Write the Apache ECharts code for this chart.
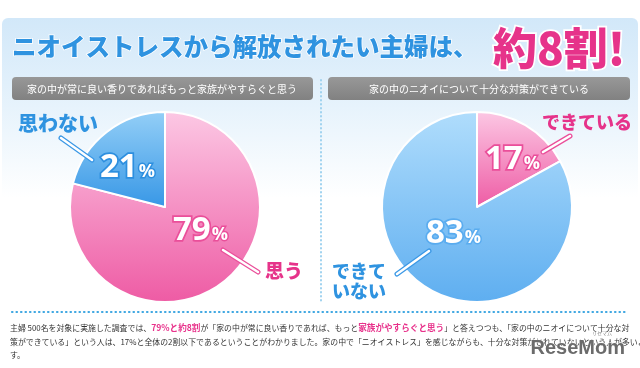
<!DOCTYPE html>
<html>
<head>
<meta charset="utf-8">
<script src="https://cdn.jsdelivr.net/npm/echarts@6/dist/echarts.min.js"></script>
<style>html,body{margin:0;padding:0;background:#fff;}#c{width:640px;height:368px;}</style>
</head>
<body>
<div id="c"></div>
<script>
// ---- data ----
const leftQuestion = '家の中が常に良い香りであればもっと家族がやすらぐと思う';
const leftCategories = ['思う', '思わない'];
const leftValues = [79, 21];
const rightQuestion = '家の中のニオイについて十分な対策ができている';
const rightCategories = ['できている', 'できていない'];
const rightValues = [17, 83];
const titleMain = 'ニオイストレスから解放されたい主婦は、';
const titleEmph = '約8割!';

const FONT = '"Noto Sans CJK JP", "Noto Sans", sans-serif';
const PINK = '#e6338a';
const BLUE = '#2f93e0';

function grad(c0, c1) {
  return { type: 'linear', x: 0, y: 0, x2: 0, y2: 1, colorStops: [{ offset: 0, color: c0 }, { offset: 1, color: c1 }] };
}
const pinkGrad = grad('#fcc8e4', '#ee5ba4');
const blueGradL = grad('#94cff7', '#3797e6');
const blueGradR = grad('#b0ddfc', '#5eaef0');

const chart = echarts.init(document.getElementById('c'), null, { renderer: 'canvas' });

function pct(x, y, v, strokeC) {
  return {
    type: 'text', x: x, y: y, z: 100,
    style: {
      text: '{n|' + v + '}{p|%}',
      rich: {
        n: { fontSize: 33, fontWeight: 'bold', fontFamily: '"Open Sans", Roboto, sans-serif', fill: '#fff', stroke: strokeC, lineWidth: 3.5 },
        p: { fontSize: 18, fontWeight: 'bold', fontFamily: '"Open Sans", Roboto, sans-serif', fill: '#fff', stroke: strokeC, lineWidth: 3, padding: [8, 0, 0, 1] }
      },
      verticalAlign: 'middle', align: 'left'
    }
  };
}
function leader(pts, color) {
  return [
    { type: 'polyline', z: 99, shape: { points: pts }, style: { stroke: color, lineWidth: 5, lineCap: 'round' } },
    { type: 'polyline', z: 99, shape: { points: pts }, style: { stroke: '#fff', lineWidth: 2.5, lineCap: 'round' } }
  ];
}
function catLabel(x, y, text, color, size, align) {
  return {
    type: 'text', x: x, y: y, z: 100,
    style: { text: text, fill: color, font: '900 ' + size + 'px ' + FONT, verticalAlign: 'middle', align: align || 'left', lineHeight: 20 }
  };
}

const footRich = {
  t: { fontSize: 7.9, fontFamily: FONT, fill: '#333' },
  h: { fontSize: 8.6, fontFamily: FONT, fontWeight: 'bold', fill: '#e8328b' }
};
function foot(y, text) {
  return { type: 'text', x: 10, y: y, z: 100, style: { text: text, rich: footRich, verticalAlign: 'middle' } };
}

const graphics = [
  // background panel
  { type: 'rect', z: -10, shape: { x: 2, y: 18, width: 636, height: 300, r: 6 },
    style: { fill: { type: 'linear', x: 0, y: 0, x2: 0, y2: 1, colorStops: [
      { offset: 0, color: '#d2e8f9' }, { offset: 0.3, color: '#e7f3fc' }, { offset: 0.6, color: '#ffffff' }, { offset: 1, color: '#ffffff' }] } } },
  // title
  { type: 'text', x: 12, y: 47, z: 100, style: { text: titleMain, fill: BLUE, font: '900 24.5px ' + FONT, verticalAlign: 'middle', stroke: '#fff', lineWidth: 1.5 } },
  { type: 'text', x: 493, y: 48, z: 100, style: { text: titleEmph, fill: PINK, font: '900 44px ' + FONT, verticalAlign: 'middle', stroke: '#fff', lineWidth: 3.5, shadowColor: 'rgba(0,0,0,0.25)', shadowBlur: 3, shadowOffsetY: 1 } },
  // question boxes
  { type: 'rect', z: 10, shape: { x: 12, y: 77, width: 301, height: 23, r: 4 }, style: { fill: grad('#989898', '#818181') } },
  { type: 'rect', z: 10, shape: { x: 328, y: 77, width: 302, height: 23, r: 4 }, style: { fill: grad('#989898', '#818181') } },
  { type: 'text', x: 162, y: 89, z: 100, style: { text: leftQuestion, fill: '#fff', font: '10px ' + FONT, align: 'center', verticalAlign: 'middle' } },
  { type: 'text', x: 479, y: 89, z: 100, style: { text: rightQuestion, fill: '#fff', font: '10px ' + FONT, align: 'center', verticalAlign: 'middle' } },
  // dotted dividers
  { type: 'line', z: 5, shape: { x1: 321, y1: 80, x2: 321, y2: 302 }, style: { stroke: '#9fd2ef', lineWidth: 2, lineDash: [0.5, 3.5], lineCap: 'round' } },
  { type: 'line', z: 5, shape: { x1: 12, y1: 312, x2: 628, y2: 312 }, style: { stroke: '#3ea7e2', lineWidth: 2.2, lineDash: [0.5, 4], lineCap: 'round' } },
  // percent labels
  pct(100, 168, leftValues[1], '#2d8fdf'),
  pct(173, 231, leftValues[0], '#ea4f9a'),
  pct(485, 160, rightValues[0], '#ea4f9a'),
  pct(426, 234, rightValues[1], '#5aacef'),
  // leader lines
  ...leader([[61, 138], [92, 160]], '#3a98e6'),
  ...leader([[223, 250], [258, 272]], '#ea4f9a'),
  ...leader([[543, 152], [570, 136]], '#ea4f9a'),
  ...leader([[429, 251], [397, 274]], '#3a98e6'),
  // category labels
  catLabel(18, 123, leftCategories[1], BLUE, 20),
  catLabel(265, 271, leftCategories[0], PINK, 19),
  catLabel(542, 122, rightCategories[0], PINK, 18),
  catLabel(332, 281, rightCategories[1].slice(0, 3) + '\n' + rightCategories[1].slice(3), BLUE, 18),
  // footnote
  foot(328, '{t|主婦 500名を対象に実施した調査では、}{h|79%と約8割}{t|が「家の中が常に良い香りであれば、もっと}{h|家族がやすらぐと思う}{t|」と答えつつも、「家の中のニオイについて十分な対}'),
  foot(342, '{t|策ができている」という人は、17%と全体の2割以下であるということがわかりました。家の中で「ニオイストレス」を感じながらも、十分な対策がとれていないという人が多いようで}'),
  foot(355, '{t|す。}'),
  // watermark
  { type: 'text', x: 625, y: 348, z: 120, style: { text: 'ReseMom', fill: '#6b6b6b', font: 'bold 20px "Liberation Sans Narrow", "Liberation Sans", sans-serif', align: 'right', verticalAlign: 'middle', stroke: 'rgba(255,255,255,0.8)', lineWidth: 1 } },
  { type: 'text', x: 612, y: 333, z: 120, style: { text: 'リセマム', fill: '#888', font: '5px ' + FONT, align: 'right', verticalAlign: 'middle' } }
];

function pieSeries(center, cats, vals, colors) {
  return {
    type: 'pie', center: center, radius: 95, startAngle: 90, clockwise: true,
    silent: true, animation: false, z: 20,
    label: { show: false }, labelLine: { show: false },
    itemStyle: { borderColor: '#fff', borderWidth: 2 },
    data: cats.map((c, i) => ({ name: c, value: vals[i], itemStyle: { color: colors[i] } }))
  };
}

chart.setOption({
  animation: false,
  backgroundColor: '#fff',
  series: [
    pieSeries([165, 207], leftCategories, leftValues, [pinkGrad, blueGradL]),
    pieSeries([477, 207], rightCategories, rightValues, [pinkGrad, blueGradR])
  ],
  graphic: { elements: graphics }
});
</script>
</body>
</html>
